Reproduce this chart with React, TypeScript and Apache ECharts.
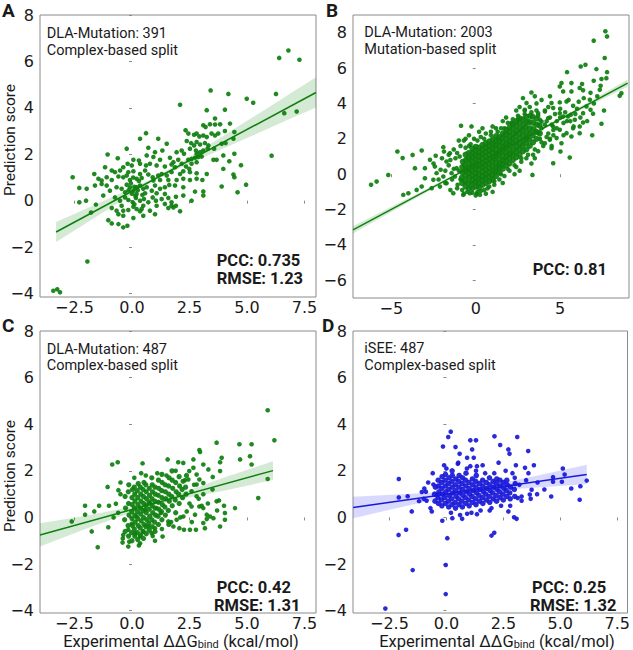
import React, { useEffect, useRef } from "react";
import * as echarts from "echarts";

// ---------- data ----------
const pointsA: [number, number][] = [
  [6.4,6.15],[6.8,6.47],[7.28,6.07],[6.26,4.6],[6.62,3.77],[7.16,3.84],[6.07,1.94],[4.99,4.39],[5.27,4.22],[4.19,4.6],[3.42,4.75],[2.09,4.13],[-3.42,-3.88],[-3.13,-3.95],[-3.25,-3.82],[-1.94,-2.62],
  [3.25,3.9],[4.04,3.92],[3.61,3.54],[4.26,3.32],[3.1,3.25],[3.2,3.17],[3.39,3.29],[3.61,3.28],[3.83,3.29],
  [2.33,3.03],[2.45,2.89],[2.7,2.84],[2.81,2.89],[2.93,2.77],[3.1,2.81],[3.25,2.74],[3.46,2.89],[3.61,2.81],[3.75,2.89],[4.04,3.0],[4.45,2.96],[0.61,2.91],[0.35,2.67],[1.14,2.67],[1.51,2.45],
  [2.38,2.57],[2.57,2.48],[2.7,2.38],[2.81,2.53],[2.96,2.42],[3.17,2.48],[3.32,2.38],[3.57,2.24],[3.9,2.45],[4.07,2.48],[4.41,2.67],[2.52,2.24],[2.78,2.16],[3.1,2.16],[3.29,2.24],[-0.23,2.24],[0.71,2.28],[1.0,2.09],[1.32,2.16],[1.94,2.09],[2.16,2.16],[2.26,2.02],[2.81,2.02],[2.96,2.09],
  [-1.06,1.99],[-0.62,1.83],[0.06,1.76],[0.3,1.73],[0.64,1.95],[0.93,1.88],[1.22,1.76],[1.65,1.85],[1.8,1.66],[2.01,1.76],[2.16,1.59],[2.45,1.76],[2.59,1.8],[2.74,1.85],[2.88,1.88],[3.03,1.9],[2.59,1.59],[2.81,1.66],[3.54,1.76],[3.68,1.76],[3.97,1.95],[4.23,1.7],[4.45,2.02],[4.74,1.53],[-0.19,1.59],[-0.01,1.52],[0.35,1.59],[0.78,1.59],[1.07,1.52],[1.43,1.47],[1.72,1.56],[1.87,1.44],[2.35,1.47],[2.49,1.37],[0.61,1.52],[-0.38,1.44],
  [-1.17,1.44],[-0.88,1.3],[-0.74,1.23],[-0.52,1.3],[-0.16,1.23],[0.06,1.27],[0.35,1.15],[0.57,1.3],[0.71,1.13],[0.9,1.01],[1.14,1.08],[1.29,1.15],[1.51,1.08],[1.72,1.23],[2.09,1.15],[2.23,1.27],[2.52,1.23],[2.81,1.18],[3.25,1.15],[3.97,1.37],[4.41,1.13],[4.45,1.01],[-1.64,1.15],[-1.46,0.94],[-1.32,0.87],[-1.1,1.01],[-0.88,0.89],[-0.59,1.04],[-0.38,1.01],[-0.23,1.08],[-0.09,0.89],[0.2,0.94],[0.42,0.98],[0.93,0.87],[1.22,0.89],[1.58,0.89],[1.94,0.89],[2.23,0.94],[2.52,0.89],[2.81,0.94],[3.06,0.89],
  [-2.58,1.01],[-2.29,0.55],[-1.97,0.51],[-1.61,0.65],[-1.32,0.72],[-1.1,0.65],[-0.96,0.43],[-0.67,0.58],[-0.45,0.51],[-0.23,0.69],[-0.09,0.58],[0.06,0.43],[0.2,0.58],[0.35,0.65],[0.49,0.51],[0.64,0.58],[0.86,0.43],[1.0,0.65],[1.22,0.51],[1.43,0.58],[1.62,0.68],[1.87,0.65],[2.23,0.58],[2.74,0.39],[3.1,0.4],[3.9,0.61],[4.59,0.36],[4.96,0.69],[-0.3,0.36],[0.2,0.29],[0.57,0.32],[1.07,0.32],[1.43,0.29],
  [-2.29,-0.07],[-2.0,0.0],[-1.57,-0.17],[-1.25,0.22],[-0.74,0.14],[-0.52,0.0],[-0.3,0.14],[-0.16,0.03],[0.03,-0.07],[0.17,0.12],[0.35,0.0],[0.52,0.07],[0.71,-0.07],[0.9,0.14],[1.04,0.0],[1.29,0.07],[1.58,0.12],[1.72,-0.07],[1.91,0.17],[2.23,0.22],[2.59,0.0],[3.1,0.22],[-0.45,-0.22],[0.06,-0.26],[0.49,-0.22],[1.07,-0.22],[1.43,-0.14],[1.72,-0.22],[1.91,-0.22],
  [-1.78,-0.51],[-0.88,-0.32],[-0.67,-0.43],[-0.38,-0.43],[-0.16,-0.4],[0.2,-0.36],[0.35,-0.46],[0.42,-0.36],[0.78,-0.43],[1.0,-0.58],[1.58,-0.32],[1.8,-0.29],[2.09,-0.46],[-0.59,-0.58],[-0.38,-0.65],[0.06,-0.75],[0.49,-0.65],[-1.03,-0.84],[-0.88,-0.98],[-0.59,-1.01],[-0.38,-1.15],[-0.2,-1.08],
  [0.0,0.3],[0.1,0.6],[0.15,0.2],[-0.05,0.75],[0.25,0.45],[0.1,-0.15],[0.3,0.85],[-0.15,0.45],[0.45,0.25],[0.05,1.0]
];

const pointsBOuter: [number, number][] = [
  [7.68,8.08],[7.78,7.79],[6.99,7.55],[7.64,6.57],[6.5,6.19],[6.22,6.09],[5.41,5.77],[7.15,5.94],[7.78,5.77],[6.99,5.28],[7.45,5.38],[7.74,5.43],[7.35,4.77],[6.16,4.87],[6.36,4.74],[4.98,4.96],[5.18,4.68],[5.67,4.68],[3.3,4.62],[8.63,4.58],[8.53,4.43],[6.76,4.21],[6.8,3.64],[6.36,3.45],[7.45,2.85],[6.16,2.7],[6.36,2.92],[5.87,3.08],[5.57,0.94],[4.59,0.62],[5.02,1.28],[3.36,-0.04],[4.98,4.06],[5.38,4.11],[4.49,4.02],[4.59,3.74],[4.1,3.55],[4.29,3.17],[4.98,3.45],[5.47,3.26],[4.59,2.7],[4.98,2.51],[5.38,2.32],[5.67,2.13],[6.16,2.32],[4.79,2.04],[4.39,1.94],[4.1,1.75],[4.49,1.47],[5.08,1.75],[3.7,2.32],[3.9,2.98],[3.7,3.45],[3.8,3.08],[2.91,3.64],[3.01,4.02],[-0.87,2.74],[-0.25,2.7],[-1.92,1.53],[-1.88,1.28],[-2.37,1.04],[-3.2,1.34],[-2.71,0.81],[-3.01,0.34],[-3.6,0.34],[-3.74,1.09],[-4.64,1.28],[-4.33,0.91],[-5.18,-0.04],[-5.87,-0.42],[-6.2,-0.6],[-4.29,-1.17],[-3.99,-1.08],[-3.5,-0.89],[-3.2,-0.7],[-3.01,-0.23],[-2.51,-0.32],[-2.32,0.06],[-2.08,0.25],[-2.42,0.43],[-1.73,0.72],[-1.53,1.19],[-2.61,-0.79],[-2.12,-0.7],[-1.73,-0.51],[-1.92,-0.13],[-1.33,-1.08],[-0.74,-1.17],[-0.35,-1.08],[0.05,-1.11],[0.25,-1.17],[-1.07,-0.6],[-1.23,-0.13],[-1.13,0.34],[-1.43,0.06],[5.77,3.87],[5.18,3.26],[6.56,3.83],[5.77,2.6],[6.95,3.42],[5.63,3.36],[5.08,5.15],[5.67,5.15],
  [-1.6,0.5],[-1.4,-0.3],[-1.2,0.9],[-1.1,-0.8],[-1.0,0.2],[-1.3,1.4],[-0.9,1.6],[-0.7,1.9],[-0.5,-1.0],[-0.3,1.7],[-0.1,2.0],[0.1,-1.0],[0.3,2.1],[0.5,-0.9],[0.6,2.3],[0.8,-0.7],[0.9,2.4],[1.1,-0.6],[1.2,2.6],[1.4,-0.3],[1.5,2.6],[1.7,-0.1],[1.9,2.9],[2.0,0.2],[2.2,3.1],[2.4,0.4],[2.5,3.3],[2.7,0.7],[2.9,3.6],[3.0,0.9],[3.2,3.8],[3.4,1.1],[3.6,3.6],[3.7,1.3],[3.9,2.6],[4.0,1.6],[4.2,3.0],[4.3,2.3],[4.5,2.8],[4.4,2.0],[3.8,2.0],[-1.8,-0.5],[-2.0,0.9],[-1.6,1.1],[0.0,-1.2],[1.0,-1.0],[2.3,0.0],[3.3,0.6],[4.1,3.6],[4.6,2.5],[4.8,3.0],[5.2,2.9],[-0.8,-0.9],[2.6,3.8],[1.6,3.0],[0.4,2.6],[-0.4,2.2],[4.7,3.4],[5.0,3.7],[5.4,3.0],[5.9,3.4],[6.1,4.1],[5.5,4.2],[6.6,3.0],[7.0,4.0],[6.3,5.1],[4.4,4.4],[3.9,4.2],[3.5,4.4],[2.8,4.3],[5.8,2.7],[6.9,2.2],[7.2,4.4],[7.6,3.6],
  [-1.5,-0.9],[-1.3,0.3],[-1.1,1.2],[-0.9,-0.3],[-0.95,1.0],[-0.7,-1.1],[-0.6,1.5],[-0.4,1.6],[-0.2,-1.05],[0.1,1.9],[0.3,-0.95],[0.5,2.0],[0.7,-0.8],[0.9,2.2],[1.1,-0.4],[1.3,2.4],[1.5,0.0],[1.7,2.6],[1.9,0.3],[2.1,2.9],[2.3,0.5],[2.5,3.1],[2.7,0.9],[2.9,3.4],[3.1,1.1],[3.3,3.5],[3.5,1.4],[3.7,3.3],[3.9,1.8],[4.1,2.8],[4.2,2.1],[4.4,3.2],[4.6,2.2],[4.8,2.6],[5.0,3.2],[5.3,3.5],[5.6,3.0],[6.0,3.7],[6.4,4.3],[4.3,3.8],[3.6,4.0],[2.4,3.6],[1.8,3.2],[1.0,2.7],[0.2,2.4],[-0.6,2.0],[-1.0,1.9],[-1.8,0.2],[-2.2,-0.3],[-2.5,0.6],[-1.5,0.8],[0.6,-1.1],[1.6,-0.5],[2.6,0.2],[3.5,0.9],[4.5,1.6],[5.2,2.2],[6.2,3.2],[6.8,4.6],[7.4,5.0]
];

const pointsBCore: [number, number][] = [
  [-0.8,-0.5],[-0.82,-0.2],[-0.78,0.1],[-0.8,0.4],[-0.76,0.7],
  [-0.6,-0.7],[-0.62,-0.4],[-0.58,-0.1],[-0.6,0.2],[-0.63,0.5],[-0.57,0.8],[-0.6,1.1],
  [-0.4,-0.8],[-0.42,-0.5],[-0.38,-0.2],[-0.4,0.1],[-0.43,0.35],[-0.37,0.6],[-0.4,0.9],[-0.41,1.2],
  [-0.2,-0.8],[-0.22,-0.55],[-0.18,-0.3],[-0.2,-0.05],[-0.23,0.2],[-0.17,0.45],[-0.2,0.7],[-0.21,0.95],[-0.19,1.2],[-0.2,1.45],
  [0,-0.7],[-0.02,-0.45],[0.02,-0.2],[0,0.05],[-0.03,0.3],[0.03,0.55],[0,0.8],[-0.01,1.05],[0.01,1.3],[0,1.55],
  [0.2,-0.75],[0.18,-0.5],[0.22,-0.25],[0.2,0],[0.17,0.25],[0.23,0.5],[0.2,0.75],[0.19,1.0],[0.21,1.25],[0.2,1.5],
  [0.4,-0.6],[0.38,-0.35],[0.42,-0.1],[0.4,0.15],[0.37,0.4],[0.43,0.65],[0.4,0.9],[0.39,1.15],[0.41,1.4],[0.4,1.65],
  [0.6,-0.5],[0.58,-0.25],[0.62,0],[0.6,0.25],[0.57,0.5],[0.63,0.75],[0.6,1.0],[0.59,1.25],[0.61,1.5],[0.6,1.75],
  [0.8,-0.4],[0.78,-0.15],[0.82,0.1],[0.8,0.35],[0.77,0.6],[0.83,0.85],[0.8,1.1],[0.79,1.35],[0.81,1.6],[0.8,1.85],
  [1.0,-0.3],[0.98,-0.05],[1.02,0.2],[1.0,0.45],[0.97,0.7],[1.03,0.95],[1.0,1.2],[0.99,1.45],[1.01,1.7],[1.0,1.95],
  [1.2,-0.1],[1.18,0.15],[1.22,0.4],[1.2,0.65],[1.17,0.9],[1.23,1.15],[1.2,1.4],[1.19,1.65],[1.21,1.9],[1.2,2.15],
  [1.4,0.1],[1.38,0.35],[1.42,0.6],[1.4,0.85],[1.37,1.1],[1.43,1.35],[1.4,1.6],[1.39,1.85],[1.41,2.1],
  [1.6,0.3],[1.58,0.55],[1.62,0.8],[1.6,1.05],[1.57,1.3],[1.63,1.55],[1.6,1.8],[1.59,2.05],[1.61,2.3],
  [1.8,0.5],[1.78,0.75],[1.82,1.0],[1.8,1.25],[1.77,1.5],[1.83,1.75],[1.8,2.0],[1.79,2.25],[1.81,2.5],
  [2.0,0.6],[1.98,0.9],[2.02,1.15],[2.0,1.4],[1.97,1.65],[2.03,1.9],[2.0,2.15],[1.99,2.4],[2.01,2.65],
  [2.2,0.8],[2.18,1.1],[2.22,1.4],[2.2,1.7],[2.17,2.0],[2.23,2.3],[2.2,2.6],[2.21,2.85],
  [2.4,0.95],[2.38,1.25],[2.42,1.55],[2.4,1.85],[2.37,2.15],[2.43,2.45],[2.4,2.75],[2.41,3.0],
  [2.6,1.1],[2.58,1.4],[2.62,1.7],[2.6,2.0],[2.57,2.3],[2.63,2.6],[2.6,2.9],[2.61,3.15],
  [2.8,1.3],[2.78,1.6],[2.82,1.9],[2.8,2.2],[2.77,2.5],[2.83,2.8],[2.8,3.1],
  [3.0,1.4],[2.98,1.75],[3.02,2.05],[3.0,2.35],[2.97,2.65],[3.03,2.95],[3.0,3.25],
  [3.2,1.6],[3.18,1.95],[3.22,2.3],[3.2,2.6],[3.17,2.95],[3.23,3.3],
  [3.4,1.8],[3.38,2.2],[3.42,2.55],[3.4,2.9],[3.37,3.25],
  [3.6,2.0],[3.58,2.4],[3.62,2.8],[3.6,3.15],
  [3.8,2.3],[3.78,2.75]
];

const pointsCOuter: [number, number][] = [
  [5.9,4.6],[6.19,3.31],[3.68,3.21],[4.67,3.14],[5.2,3.14],[2.93,2.89],[2.96,2.81],[4.7,2.49],[5.13,2.63],[5.2,2.27],[3.9,2.56],[3.83,2.37],[5.9,1.65],[5.49,0.83],[4.48,0.4],[3.83,-0.39],[4.04,0.19],[4.04,-0.1],[-0.86,2.27],[-0.62,2.37],[0.46,2.32],[1.55,2.49],[2.01,2.37],[2.23,2.34],[2.67,2.49],[3.1,2.27],[-1.06,1.31],[-2.62,-0.17],[-2.04,0.5],[-2.04,0.12],[-1.64,0.26],[-1.43,0.5],[-1.75,-0.6],[-1.49,-1.28],[-1.03,-0.42],[-0.7,0.59],[-0.59,1.17],[-0.41,-1.08],[-0.16,-1.25],[0.35,-1.11],[1.33,-0.82],[1.8,-0.39],[2.06,-0.46],[2.52,-0.53],[2.78,-0.53],[3.17,-0.46],[3.1,-0.24],[3.39,0.04],[3.54,-0.03],[3.25,0.12],[2.93,0.47],[3.1,0.4],[3.68,0.69],[3.78,0.73],[3.51,1.74],[3.83,1.99],[3.32,2.06],[2.81,1.84],[2.49,1.99],[2.67,2.13],[2.45,1.63],[2.93,1.63],[3.1,1.48],[2.81,1.41],[2.59,1.12],[2.81,0.91],[3.03,0.5],[3.25,-0.07],[2.74,0.12],[2.38,0.26],[2.59,0.47],[2.23,0.04],[2.26,-0.53],[1.94,-0.1],[1.58,-0.17],[1.25,0.19],[1.07,0.4],[0.78,0.62],[0.57,0.33],[0.2,0.04],[-0.01,-0.27],[-0.16,-0.53],[0.13,-0.68],[0.49,-0.6],[0.86,-0.68],[1.0,-0.46],[0.71,-0.39],[0.35,-0.82],[-0.12,-1.04],[-0.38,-0.75],
  [-0.6,0.2],[-0.5,1.0],[-0.4,-0.9],[-0.5,1.5],[0.1,1.7],[0.3,-1.2],[0.6,1.8],[0.9,-0.8],[1.1,1.9],[1.3,-0.5],[1.5,1.8],[1.7,-0.2],[1.9,2.0],[2.1,0.0],[2.3,1.6],[2.5,0.6],[2.7,1.4],[2.9,0.8],[3.1,1.0],[3.3,0.6],[3.5,1.2],[3.7,0.3],[4.0,0.5],[-0.8,0.0],[-1.0,0.5],[2.6,-0.2],[1.0,-1.0],[0.4,1.9]
];

const pointsCCore: [number, number][] = [
  [-0.3,-0.6],[-0.32,-0.1],[-0.28,0.4],[-0.3,0.9],
  [-0.15,-0.8],[-0.17,-0.35],[-0.13,0.1],[-0.15,0.6],[-0.16,1.1],[-0.14,1.4],
  [0,-1.0],[-0.02,-0.65],[0.02,-0.35],[0,-0.05],[-0.01,0.25],[0.01,0.55],[0,0.85],[0.02,1.2],
  [0.12,-0.8],[0.1,-0.5],[0.14,-0.2],[0.12,0.1],[0.11,0.4],[0.13,0.7],[0.12,1.0],[0.1,1.3],
  [0.25,-0.95],[0.23,-0.65],[0.27,-0.35],[0.25,-0.05],[0.24,0.25],[0.26,0.55],[0.25,0.85],[0.23,1.15],[0.27,1.45],
  [0.38,-0.75],[0.36,-0.45],[0.4,-0.15],[0.38,0.15],[0.37,0.4],[0.39,0.7],[0.38,1.0],[0.36,1.3],
  [0.5,-0.9],[0.48,-0.6],[0.52,-0.3],[0.5,0],[0.49,0.3],[0.51,0.6],[0.5,0.9],[0.48,1.2],[0.52,1.5],
  [0.62,-0.7],[0.6,-0.4],[0.64,-0.1],[0.62,0.2],[0.61,0.5],[0.63,0.8],[0.62,1.1],[0.6,1.4],
  [0.75,-0.55],[0.73,-0.25],[0.77,0.05],[0.75,0.35],[0.74,0.65],[0.76,0.95],[0.75,1.25],
  [0.88,-0.4],[0.86,-0.1],[0.9,0.2],[0.88,0.5],[0.87,0.8],[0.89,1.1],[0.88,1.4],[0.86,1.7],
  [1.0,-0.6],[0.98,-0.2],[1.02,0.1],[1.0,0.4],[0.99,0.7],[1.01,1.0],[1.0,1.3],
  [1.15,-0.3],[1.13,0.05],[1.17,0.35],[1.15,0.65],[1.14,0.95],[1.16,1.25],[1.15,1.6],
  [1.3,-0.1],[1.28,0.25],[1.32,0.55],[1.3,0.85],[1.29,1.15],[1.31,1.5],[1.3,1.85],
  [1.45,0.1],[1.43,0.45],[1.47,0.8],[1.45,1.1],[1.44,1.4],
  [1.6,-0.3],[1.58,0.3],[1.62,0.7],[1.6,1.0],[1.59,1.35],[1.61,1.7],
  [1.75,0.5],[1.73,0.9],[1.77,1.25],[1.75,1.6],[1.74,2.0],
  [1.9,0.2],[1.88,0.75],[1.92,1.1],[1.9,1.5],
  [2.05,0.6],[2.03,1.0],[2.07,1.35],[2.05,1.75],
  [2.2,0.85],[2.18,1.2],[2.22,1.55],
  [2.35,1.0],[2.33,1.3],[2.37,1.8]
];

const pointsDOuter: [number, number][] = [
  [0.19,3.68],[0.08,3.45],[2.11,3.48],[3.11,3.45],[1.05,3.31],[1.3,3.31],[-0.15,3.04],[0.4,3.02],[2.36,3.11],[1.13,2.92],[2.72,2.92],[2.77,2.73],[3.59,2.85],[0.58,2.73],[0.91,2.56],[1.2,2.56],[2.29,2.35],[-0.1,2.24],[0.52,2.35],[1.05,2.2],[1.34,2.2],[1.59,2.24],[3.05,2.24],[3.45,2.13],[3.84,2.24],[5.11,2.1],[5.19,1.84],[4.68,1.73],[4.68,1.53],[5.07,1.53],[5.48,1.24],[5.88,1.34],[5.85,0.76],[6.16,1.58],[-2.09,1.65],[-2.09,0.86],[-1.7,0.91],[-1.52,0.26],[-2.1,-0.75],[-1.77,-0.53],[0.04,-0.89],[1.98,-0.78],[2.1,-0.66],[-1.48,-2.26],[-0.03,-2.04],[-0.03,-3.29],[-2.68,-3.91],[3.74,1.19],[3.98,1.0],[3.66,0.98],[3.13,0.83],[3.3,0.72],[2.72,0.26],[2.97,0.01],[3.08,-0.06],[-0.18,-0.14],[0.26,-0.03],[0.69,-0.06],[0.91,0.16],[1.34,0.14],[1.98,0.4],[-0.64,0.26],[-0.97,1.24],[-0.57,1.41],[-0.4,0.98],[-0.87,0.72],[-1.08,1.09],
  [-1.0,0.8],[-0.8,1.5],[-0.7,0.4],[-0.6,1.9],[0.0,2.1],[0.2,0.2],[0.5,2.3],[0.6,0.1],[0.9,2.1],[1.1,0.2],[1.3,2.0],[1.5,0.3],[1.7,1.9],[1.9,0.3],[2.1,1.9],[2.4,0.5],[2.6,2.0],[2.8,0.5],[3.0,1.7],[3.2,1.4],[3.3,0.9],[3.5,1.6],[3.7,0.8],[4.0,1.5],[4.3,1.2],[3.6,1.9],[2.9,1.9],[4.6,0.9],[-0.9,1.1],[-1.2,0.7]
];

const pointsDCore: [number, number][] = [
  [-0.5,0.7],[-0.52,1.0],[-0.48,1.3],
  [-0.35,0.6],[-0.37,0.85],[-0.33,1.1],[-0.35,1.35],[-0.36,1.6],
  [-0.2,0.5],[-0.22,0.75],[-0.18,1.0],[-0.2,1.25],[-0.21,1.5],[-0.19,1.75],
  [-0.05,0.6],[-0.07,0.85],[-0.03,1.1],[-0.05,1.35],[-0.06,1.6],[-0.04,1.85],
  [0.1,0.45],[0.08,0.7],[0.12,0.95],[0.1,1.2],[0.09,1.45],[0.11,1.7],
  [0.25,0.55],[0.23,0.8],[0.27,1.05],[0.25,1.3],[0.24,1.55],[0.26,1.8],[0.25,2.0],
  [0.4,0.4],[0.38,0.65],[0.42,0.9],[0.4,1.15],[0.39,1.4],[0.41,1.65],
  [0.55,0.55],[0.53,0.8],[0.57,1.05],[0.55,1.3],[0.54,1.55],[0.56,1.8],
  [0.7,0.45],[0.68,0.7],[0.72,0.95],[0.7,1.2],[0.69,1.45],[0.71,1.7],
  [0.85,0.6],[0.83,0.85],[0.87,1.1],[0.85,1.35],[0.84,1.6],[0.86,1.9],
  [1.0,0.5],[0.98,0.75],[1.02,1.0],[1.0,1.25],[0.99,1.5],
  [1.15,0.65],[1.13,0.9],[1.17,1.15],[1.15,1.4],[1.14,1.65],
  [1.3,0.55],[1.28,0.8],[1.32,1.05],[1.3,1.3],[1.29,1.55],[1.31,1.8],
  [1.45,0.7],[1.43,0.95],[1.47,1.2],[1.45,1.45],
  [1.6,0.6],[1.58,0.85],[1.62,1.1],[1.6,1.35],[1.59,1.6],
  [1.75,0.75],[1.73,1.0],[1.77,1.25],[1.75,1.5],
  [1.9,0.65],[1.88,0.9],[1.92,1.15],[1.9,1.4],[1.89,1.7],
  [2.05,0.8],[2.03,1.05],[2.07,1.3],[2.05,1.55],
  [2.2,0.7],[2.18,0.95],[2.22,1.2],[2.2,1.45],[2.21,1.65],
  [2.35,0.85],[2.33,1.1],[2.37,1.35],[2.35,1.6],
  [2.5,0.75],[2.48,1.0],[2.52,1.25],[2.5,1.5],
  [2.65,0.9],[2.63,1.15],[2.67,1.4],[2.65,1.6],
  [2.8,0.8],[2.78,1.05],[2.82,1.3],
  [3.0,0.9],[2.98,1.2],[3.02,1.45]
];

// regression lines (end points) and confidence bands
const lineA: [number, number][] = [[-3.3, -1.35], [8.0, 4.66]];
const bandAx = [-3.3, -2, -1, 0, 1, 2, 3, 4, 5, 6, 7, 8];
const bandAlo = [-1.78, -0.97, -0.35, 0.27, 0.87, 1.37, 1.82, 2.26, 2.7, 3.14, 3.58, 4.02];
const bandAhi = [-0.92, -0.35, 0.09, 0.54, 1.01, 1.57, 2.19, 2.81, 3.44, 4.06, 4.69, 5.32];

const lineB: [number, number][] = [[-7.27, -3.15], [9.0, 5.15]];
const bandBx = [-7.27, -4, -1, 1, 3, 6, 9];
const bandBlo = [-3.35, -1.6, -0.01, 1.04, 2.05, 3.52, 4.95];
const bandBhi = [-2.95, -1.36, 0.11, 1.1, 2.13, 3.72, 5.35];

const lineC: [number, number][] = [[-4.0, -0.75], [6.13, 2.01]];
const bandCx = [-4, -2, 0, 1, 2, 4, 6.13];
const bandClo = [-1.25, -0.48, 0.22, 0.53, 0.77, 1.15, 1.61];
const bandChi = [-0.25, 0.07, 0.46, 0.69, 1.0, 1.71, 2.41];

const lineD: [number, number][] = [[-4.09, 0.43], [6.16, 1.84]];
const bandDx = [-4.09, -2, 0, 1, 2, 4, 6.16];
const bandDlo = [-0.03, 0.44, 0.88, 1.06, 1.16, 1.28, 1.42];
const bandDhi = [0.89, 1.0, 1.1, 1.2, 1.38, 1.8, 2.26];

const ticksACD_x = [-2.5, 0, 2.5, 5, 7.5];
const ticksACD_y = [-4, -2, 0, 2, 4, 6, 8];
const ticksB_x = [-5, 0, 5];
const ticksB_y = [-6, -4, -2, 0, 2, 4, 6, 8];

const GREEN = "#0e7f0e";
const BLUE = "#1818d8";
const TICKFONT = "DejaVu Sans";
const TXTFONT = "Roboto";

const fmt1 = (v: number) => (v < 0 ? "\u2212" : "") + Math.abs(v).toFixed(1);
const fmt0 = (v: number) => (v < 0 ? "\u2212" : "") + Math.abs(v).toFixed(0);

function xAxis(idx: number, min: number, max: number, ticks: number[], f: (v: number) => string) {
  return {
    type: "value", gridIndex: idx, min, max,
    splitLine: { show: false },
    axisLine: { show: false },
    axisTick: { show: true, length: 3, lineStyle: { color: "#8a8a8a" }, customValues: ticks },
    axisLabel: { customValues: ticks, formatter: f, margin: 3, lineHeight: 15, fontFamily: TICKFONT, fontSize: 16, color: "#1a1a1a" },
  };
}
function yAxis(idx: number, min: number, max: number, ticks: number[]) {
  return {
    type: "value", gridIndex: idx, min, max,
    splitLine: { show: false },
    axisLine: { show: false },
    axisTick: { show: true, length: 3, lineStyle: { color: "#8a8a8a" }, customValues: ticks },
    axisLabel: { customValues: ticks, formatter: fmt0, margin: 6, fontFamily: TICKFONT, fontSize: 16, color: "#1a1a1a" },
  };
}
function scatter(idx: number, data: [number, number][], color: string, size = 4.6) {
  return {
    type: "scatter", xAxisIndex: idx, yAxisIndex: idx, data, symbolSize: size, z: 2,
    itemStyle: { color, opacity: 0.92 }, silent: true,
  };
}
function line(idx: number, data: [number, number][], color: string) {
  return {
    type: "line", xAxisIndex: idx, yAxisIndex: idx, data, showSymbol: false, z: 4, silent: true,
    lineStyle: { color, width: 1.5 },
  };
}
function band(idx: number, xs: number[], lo: number[], hi: number[], fill: string) {
  return {
    type: "custom", xAxisIndex: idx, yAxisIndex: idx, z: 3, silent: true,
    data: [[xs[0], lo[0]]],
    renderItem: (_p: any, api: any) => {
      const pts: number[][] = [];
      for (let i = 0; i < xs.length; i++) pts.push(api.coord([xs[i], lo[i]]));
      for (let i = xs.length - 1; i >= 0; i--) pts.push(api.coord([xs[i], hi[i]]));
      return { type: "polygon", shape: { points: pts }, style: { fill } };
    },
  };
}
function txt(x: number, y: number, text: string, size: number, bold = false) {
  return {
    type: "text", x, y, silent: true,
    style: { text, fontFamily: TXTFONT, fontSize: size, lineHeight: bold ? 15 : 14, fontWeight: bold ? "bold" : "normal", fill: "#1a1a1a", align: "left", verticalAlign: "middle" },
  };
}

export default function App() {
  const ref = useRef<HTMLDivElement>(null);
  useEffect(() => {
    document.body.style.margin = "0";
    const chart = echarts.init(ref.current!, null, { renderer: "svg" });
    const gridStyle = { show: true, borderColor: "#8a8a8a", borderWidth: 1, backgroundColor: "#fff" };
    const xlab = (cx: number) => ({
      type: "text", x: cx, y: 641, silent: true,
      style: {
        text: "Experimental \u0394\u0394G{sub|bind} (kcal/mol)",
        fontFamily: TXTFONT, fontSize: 16.5, lineHeight: 17, fill: "#1a1a1a", align: "center", verticalAlign: "middle",
        rich: { sub: { fontFamily: TXTFONT, fontSize: 11, lineHeight: 11, fill: "#1a1a1a", padding: [6, 0, 0, 0] } },
      },
    });
    const ylab = (cy: number) => ({
      type: "text", x: 10, y: cy, rotation: Math.PI / 2, silent: true,
      style: { text: "Prediction score", fontFamily: TXTFONT, fontSize: 15.5, fill: "#1a1a1a", align: "center", verticalAlign: "middle" },
    });
    chart.setOption({
      animation: false,
      backgroundColor: "#fff",
      grid: [
        { left: 40, top: 15, width: 276, height: 282, ...gridStyle },
        { left: 353, top: 15, width: 276, height: 283, ...gridStyle },
        { left: 40, top: 331, width: 276, height: 282, ...gridStyle },
        { left: 353, top: 331, width: 277, height: 282, ...gridStyle },
      ],
      xAxis: [
        xAxis(0, -4, 8, ticksACD_x, fmt1),
        xAxis(1, -7.27, 9.08, ticksB_x, fmt0),
        xAxis(2, -4, 8, ticksACD_x, fmt1),
        xAxis(3, -4.1, 7.95, ticksACD_x, fmt1),
      ],
      yAxis: [
        yAxis(0, -4.15, 8, ticksACD_y),
        yAxis(1, -7, 9, ticksB_y),
        yAxis(2, -4.1, 8, ticksACD_y),
        yAxis(3, -4.1, 8, ticksACD_y),
      ],
      series: [
        scatter(0, pointsA, GREEN),
        band(0, bandAx, bandAlo, bandAhi, "rgba(0,128,0,0.17)"),
        line(0, lineA, GREEN),
        scatter(1, pointsBOuter, GREEN),
        scatter(1, pointsBCore, GREEN, 6.2),
        band(1, bandBx, bandBlo, bandBhi, "rgba(0,128,0,0.17)"),
        line(1, lineB, GREEN),
        scatter(2, pointsCOuter, GREEN),
        scatter(2, pointsCCore, GREEN, 5.3),
        band(2, bandCx, bandClo, bandChi, "rgba(0,128,0,0.17)"),
        line(2, lineC, GREEN),
        scatter(3, pointsDOuter, BLUE),
        scatter(3, pointsDCore, BLUE, 5.5),
        band(3, bandDx, bandDlo, bandDhi, "rgba(0,0,255,0.15)"),
        line(3, lineD, BLUE),
      ],
      graphic: [
        txt(2, 10, "A", 19, true),
        txt(326, 10, "B", 19, true),
        txt(2, 325, "C", 19, true),
        txt(322, 325, "D", 19, true),
        txt(46.7, 33, "DLA-Mutation: 391", 14.5),
        txt(46.7, 50, "Complex-based split", 14.5),
        txt(216.7, 260, "PCC: 0.735", 16.5, true),
        txt(216.7, 278, "RMSE: 1.23", 16.5, true),
        txt(364.3, 32, "DLA-Mutation: 2003", 14.5),
        txt(364.3, 49.7, "Mutation-based split", 14.5),
        txt(532.7, 269, "PCC: 0.81", 16.5, true),
        txt(46.7, 349, "DLA-Mutation: 487", 14.5),
        txt(46.7, 365.7, "Complex-based split", 14.5),
        txt(216.7, 587, "PCC: 0.42", 16.5, true),
        txt(214, 605, "RMSE: 1.31", 16.5, true),
        txt(364.3, 348, "iSEE: 487", 14.5),
        txt(364.3, 365.7, "Complex-based split", 14.5),
        txt(532, 587, "PCC: 0.25", 16.5, true),
        txt(530, 605, "RMSE: 1.32", 16.5, true),
        ylab(140),
        ylab(476),
        xlab(181),
        xlab(497),
      ],
    });
    return () => chart.dispose();
  }, []);
  return <div ref={ref} style={{ width: 633, height: 650 }} />;
}
